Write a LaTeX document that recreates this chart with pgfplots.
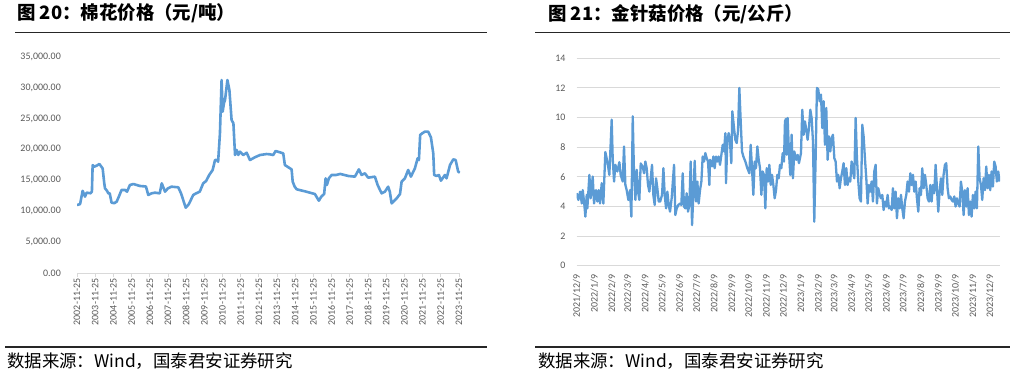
\documentclass[border=0pt]{standalone}
\usepackage{pgfplots}
\pgfplotsset{compat=1.18}
\usepackage{fontspec}
\setmainfont{Carlito}
\newfontfamily\cjk{Noto Sans CJK SC}
\definecolor{lineblue}{HTML}{5B9BD5}
\definecolor{ticklab}{HTML}{595959}
\definecolor{gridc}{HTML}{D9D9D9}
\definecolor{rulec}{HTML}{262626}
\begin{document}
\begin{tikzpicture}[x=1bp,y=1bp]
\path[use as bounding box] (0,0) rectangle (1020,377);
% titles and rules
\node[anchor=west,inner sep=0] at (17,363.3) {\cjk\bfseries\fontsize{18.5}{20}\selectfont 图 20：棉花价格（元/吨）};
\node[anchor=west,inner sep=0] at (548,363.3) {\cjk\bfseries\fontsize{18.5}{20}\selectfont 图 21：金针菇价格（元/公斤）};
\draw[rulec,line width=1.8bp] (15,344.5) -- (487,344.5);
\draw[rulec,line width=1.8bp] (535,344.5) -- (1010,344.5);
\draw[rulec,line width=1.8bp] (5,29.7) -- (487,29.7);
\draw[rulec,line width=1.8bp] (535,29.7) -- (1010,29.7);
\node[anchor=west,inner sep=0] at (7,15.5) {\cjk\fontsize{17.5}{19}\selectfont 数据来源：Wind，国泰君安证券研究};
\node[anchor=west,inner sep=0] at (538,15.5) {\cjk\fontsize{17.5}{19}\selectfont 数据来源：Wind，国泰君安证券研究};

\begin{axis}[
  at={(77bp,104bp)}, anchor=south west,
  scale only axis, width=383bp, height=216.3bp,
  xmin=2002.9, xmax=2023.96, ymin=0, ymax=35000,
  axis x line=bottom, axis y line=left, axis line style={-},
  x axis line style={draw=gridc,line width=0.8bp},
  y axis line style={draw=none},
  ytick={0,5000,...,35000},
  ytick style={draw=none},
  xtick style={draw=gridc,line width=0.8bp},
  tick align=outside, major tick length=4bp,
  xtick={2002.9,2003.9,2004.9,2005.9,2006.9,2007.9,2008.9,2009.9,2010.9,2011.9,2012.9,2013.9,2014.9,2015.9,2016.9,2017.9,2018.9,2019.9,2020.9,2021.9,2022.9,2023.9},
  xticklabels={2002-11-25,2003-11-25,2004-11-25,2005-11-25,2006-11-25,2007-11-25,2008-11-25,2009-11-25,2010-11-25,2011-11-25,2012-11-25,2013-11-25,2014-11-25,2015-11-25,2016-11-25,2017-11-25,2018-11-25,2019-11-25,2020-11-25,2021-11-25,2022-11-25,2023-11-25},
  xticklabel style={rotate=90,anchor=east,inner sep=1.5bp},
  yticklabel style={/pgf/number format/fixed,/pgf/number format/fixed zerofill,/pgf/number format/precision=2,/pgf/number format/1000 sep={,},inner sep=0bp, xshift=-12bp},
  scaled y ticks=false,
  /pgf/number format/assume math mode=true,
  tick label style={font=\fontsize{10}{12}\selectfont, text=ticklab},
]
\addplot[lineblue,line width=2.6bp,line join=round] coordinates {
(2002.90,11000)(2003.07,11150)(2003.21,13300)(2003.34,12350)(2003.43,13000)(2003.65,12900)(2003.72,13200)(2003.76,17450)(2003.85,17200)(2004.00,17400)(2004.13,17640)(2004.31,16930)(2004.40,14500)(2004.44,13700)(2004.55,13300)(2004.62,12890)(2004.70,12900)(2004.80,11380)(2004.95,11300)(2005.08,11540)(2005.20,12350)(2005.35,13430)(2005.55,13430)(2005.65,13160)(2005.81,14240)(2006.00,14400)(2006.36,14080)(2006.69,14000)(2006.82,12620)(2007.00,12890)(2007.19,13000)(2007.45,12890)(2007.56,14510)(2007.74,13160)(2007.90,13700)(2008.10,13970)(2008.47,13860)(2008.62,12890)(2008.74,11810)(2008.88,10570)(2009.05,11140)(2009.29,12620)(2009.45,12890)(2009.65,13160)(2009.84,14510)(2010.00,14890)(2010.17,15860)(2010.36,16670)(2010.49,18280)(2010.60,18280)(2010.66,18000)(2010.76,22600)(2010.85,31230)(2010.91,26100)(2010.98,27500)(2011.04,28000)(2011.17,31230)(2011.28,29600)(2011.40,24760)(2011.50,24220)(2011.59,19090)(2011.68,19900)(2011.77,19100)(2011.86,19630)(2012.04,19090)(2012.23,19460)(2012.41,18280)(2012.68,18720)(2012.96,19090)(2013.33,19250)(2013.51,19200)(2013.69,19090)(2013.82,19740)(2014.24,19360)(2014.33,17470)(2014.70,16770)(2014.76,14780)(2014.87,13970)(2014.98,13540)(2015.43,13220)(2015.98,12780)(2016.20,11700)(2016.33,12350)(2016.49,12780)(2016.57,15320)(2016.64,14240)(2016.75,15320)(2016.90,15860)(2017.15,15860)(2017.38,16030)(2017.82,15700)(2018.18,15590)(2018.40,16770)(2018.55,15860)(2018.73,16130)(2018.91,15430)(2019.28,15590)(2019.43,14240)(2019.65,12890)(2019.83,13160)(2020.01,13970)(2020.10,13160)(2020.20,11270)(2020.48,12080)(2020.66,12780)(2020.75,14780)(2020.93,15320)(2021.11,16670)(2021.26,15590)(2021.48,16940)(2021.63,18550)(2021.70,18280)(2021.77,22330)(2021.88,22600)(2022.03,22870)(2022.21,22870)(2022.36,21960)(2022.49,19360)(2022.54,15860)(2022.67,15700)(2022.80,15860)(2022.91,14940)(2023.13,15860)(2023.22,15320)(2023.41,17470)(2023.59,18390)(2023.72,18280)(2023.86,16400)(2023.95,16240)
};
\end{axis}

\begin{axis}[
  at={(576.7bp,111.3bp)}, anchor=south west,
  scale only axis, width=423.3bp, height=207.4bp,
  xmin=0, xmax=748, ymin=0, ymax=14,
  axis line style={draw=none},
  tick style={draw=none},
  ytick={0,2,...,14},
  ymajorgrids, grid style={draw=gridc,line width=0.9bp},
  xtick={0,31,62,90,121,151,182,212,243,274,304,335,365,396,427,455,486,516,547,577,608,639,669,700,730},
  xticklabels={2021/12/9,2022/1/9,2022/2/9,2022/3/9,2022/4/9,2022/5/9,2022/6/9,2022/7/9,2022/8/9,2022/9/9,2022/10/9,2022/11/9,2022/12/9,2023/1/9,2023/2/9,2023/3/9,2023/4/9,2023/5/9,2023/6/9,2023/7/9,2023/8/9,2023/9/9,2023/10/9,2023/11/9,2023/12/9},
  xticklabel style={rotate=90,anchor=east,inner sep=0bp,xshift=-9bp},
  yticklabel style={inner sep=0bp,xshift=-11bp},
  /pgf/number format/assume math mode=true,
  tick label style={font=\fontsize{10}{12}\selectfont, text=ticklab},
]
\addplot[lineblue,line width=2.3bp,line join=round] coordinates {
(0,4.89)(3,4.44)(6,5.0)(9,4.2)(10.6,5.1)(13,4.33)(15.3,3.31)(17.7,4.78)(18.8,3.87)(22.4,6.13)(24.7,4.55)(28.3,6.02)(30.6,4.2)(34.2,5.1)(36.5,4.33)(38.9,5.1)(41.2,4.2)(44.2,5.57)(47.1,4.2)(50.6,7.67)(54.2,7.03)(57.7,6.13)(61.8,9.86)(63.6,7.26)(66,5.68)(68.3,6.81)(71.8,6.36)(75.4,6.99)(77.7,6.13)(81.3,5.68)(83.6,8.05)(86,5.45)(88.3,5.1)(91.3,4.44)(94.2,5.1)(96.6,3.31)(99,10.08)(101.3,6.13)(103.7,4.44)(106,6.47)(108.4,5.0)(110.7,4.44)(113.1,6.9)(116.6,6.68)(119,6.24)(121.3,7.03)(123.7,6.58)(126,5.45)(128.4,5.0)(130.7,5.9)(133.1,6.81)(135.4,4.78)(137.8,4.1)(140.2,5.9)(142.5,5.23)(144.9,4.33)(147.5,4.33)(150.8,4.78)(153.2,6.58)(155.5,4.78)(157.9,3.87)(160.2,5.0)(162.5,4.1)(164.9,3.65)(167.8,4.55)(172,6.81)(174.3,3.42)(176.7,3.87)(179.6,4.1)(182.6,4.2)(184.9,4.1)(187.3,6.24)(189.6,3.99)(192,3.87)(194.3,4.89)(196.7,3.65)(199.1,4.1)(201.4,7.03)(203.8,2.74)(206.1,4.78)(208.5,7.08)(210.8,4.33)(213.2,5.68)(215.5,4.2)(217.9,5.1)(220.3,5.68)(222.6,7.37)(225,7.03)(227.3,7.6)(229.7,7.26)(232,7.03)(234.4,5.45)(235.6,7.15)(239.1,6.7)(241.5,7.37)(243.8,6.58)(246.2,7.37)(248.5,7.03)(250.9,7.37)(253.2,6.81)(255.6,7.48)(258,8.16)(260.3,7.71)(262.7,8.95)(263.8,5.57)(266.2,8.39)(268.5,8.95)(270.9,8.28)(273.2,6.92)(275,10.42)(278,9.29)(280.3,8.5)(282.7,8.28)(285,9.07)(287.4,12.0)(289.8,9.74)(292.1,7.71)(294.5,7.37)(298,7.03)(301.5,6.58)(305.1,6.24)(307.4,8.16)(309.8,6.58)(312.1,4.78)(314.5,7.03)(316.8,6.58)(319.2,8.05)(321.6,7.15)(323.9,6.58)(326.3,4.78)(328.6,6.36)(331,6.13)(333.3,3.87)(335.7,6.58)(338.1,5.68)(340.4,6.81)(342.8,5.45)(345.1,6.13)(347.5,5.45)(349.8,4.55)(352.2,5.1)(354.5,6.13)(356.9,5.9)(359.2,6.81)(361.6,6.58)(364,7.6)(366.3,7.03)(368,9.74)(369.5,9.9)(371,7.49)(372.7,9.97)(375,7.71)(377.4,6.13)(379.8,8.84)(382.1,5.9)(384.5,7.71)(388,7.15)(390.4,7.48)(392.7,6.92)(396.3,7.6)(398.6,10.53)(401,8.84)(403.3,9.74)(405.7,9.18)(408,8.5)(410.4,9.29)(412.8,10.53)(415.1,9.97)(417.5,8.39)(419.8,2.97)(422.2,7.26)(424.5,12.0)(426.9,11.9)(429.2,11.1)(431.6,11.55)(434,9.29)(436.3,11.1)(438.7,8.16)(441,10.65)(443.4,7.15)(445.7,8.73)(448.1,7.71)(450.4,8.61)(452.8,8.84)(455.2,7.26)(457.5,7.03)(459.9,5.68)(462.2,6.13)(464.6,5.23)(466.9,5.9)(469.3,6.36)(471.6,6.92)(474,5.45)(476.4,6.58)(478.7,5.45)(481.1,5.9)(483.4,5.68)(485.8,7.03)(488.1,6.36)(490.5,5.9)(492.9,9.97)(495.2,7.26)(497.6,5.68)(499.9,4.55)(502.3,4.33)(504.6,9.52)(507,8.73)(509.3,7.26)(511.7,5.9)(514.1,4.2)(516.4,5.45)(518.8,5.0)(521.1,5.68)(523.5,4.33)(525.8,6.36)(528.2,6.81)(530.5,4.2)(532.9,5.23)(535.3,4.78)(537.6,4.55)(540,4.78)(542.3,3.76)(544.7,4.33)(547,3.99)(549.4,4.78)(551.7,3.87)(554.1,3.99)(556.5,3.76)(558.8,5.23)(561.2,3.87)(563.5,5.0)(565.9,3.2)(568.2,4.55)(570.6,3.87)(573,4.78)(575.3,3.87)(577.7,3.2)(580,4.33)(582.4,4.78)(584.7,5.68)(587.1,5.0)(589.5,6.24)(591.8,5.45)(594.2,6.13)(596.5,5.0)(598.9,5.68)(601.2,4.55)(603.6,3.65)(605.9,5.23)(608.3,4.78)(610.6,6.58)(613,5.23)(615.4,6.13)(617.7,5.45)(620.1,4.55)(622.4,4.33)(624.8,5.45)(627.1,4.33)(629.5,5.45)(631.8,4.89)(634.2,6.81)(636.6,5.23)(638.9,3.65)(641.3,5.0)(643.6,5.9)(646,4.78)(648.3,6.13)(650.7,6.81)(653,6.92)(655.4,5.23)(657.7,4.55)(660.1,4.67)(662.5,4.44)(664.8,4.33)(667.2,4.67)(669.5,3.99)(671.9,4.55)(674.2,4.2)(676.6,3.99)(678.9,5.68)(681.3,5.0)(683.7,3.42)(686,5.1)(688.4,3.99)(690.7,5.23)(693.1,3.42)(695.4,4.33)(697.8,3.31)(700.1,4.78)(702.5,3.87)(704.8,5.0)(707.2,3.87)(709.6,8.05)(711.9,5.9)(714.3,5.45)(716.6,4.44)(719,5.9)(721.3,5.1)(723.7,6.7)(726,5.23)(728.4,6.13)(730.7,5.1)(733.1,6.36)(735.5,5.34)(737.8,7.03)(740.2,6.7)(742.5,5.68)(744.9,6.36)(747.2,5.68)
};
\end{axis}
\end{tikzpicture}
\end{document}
